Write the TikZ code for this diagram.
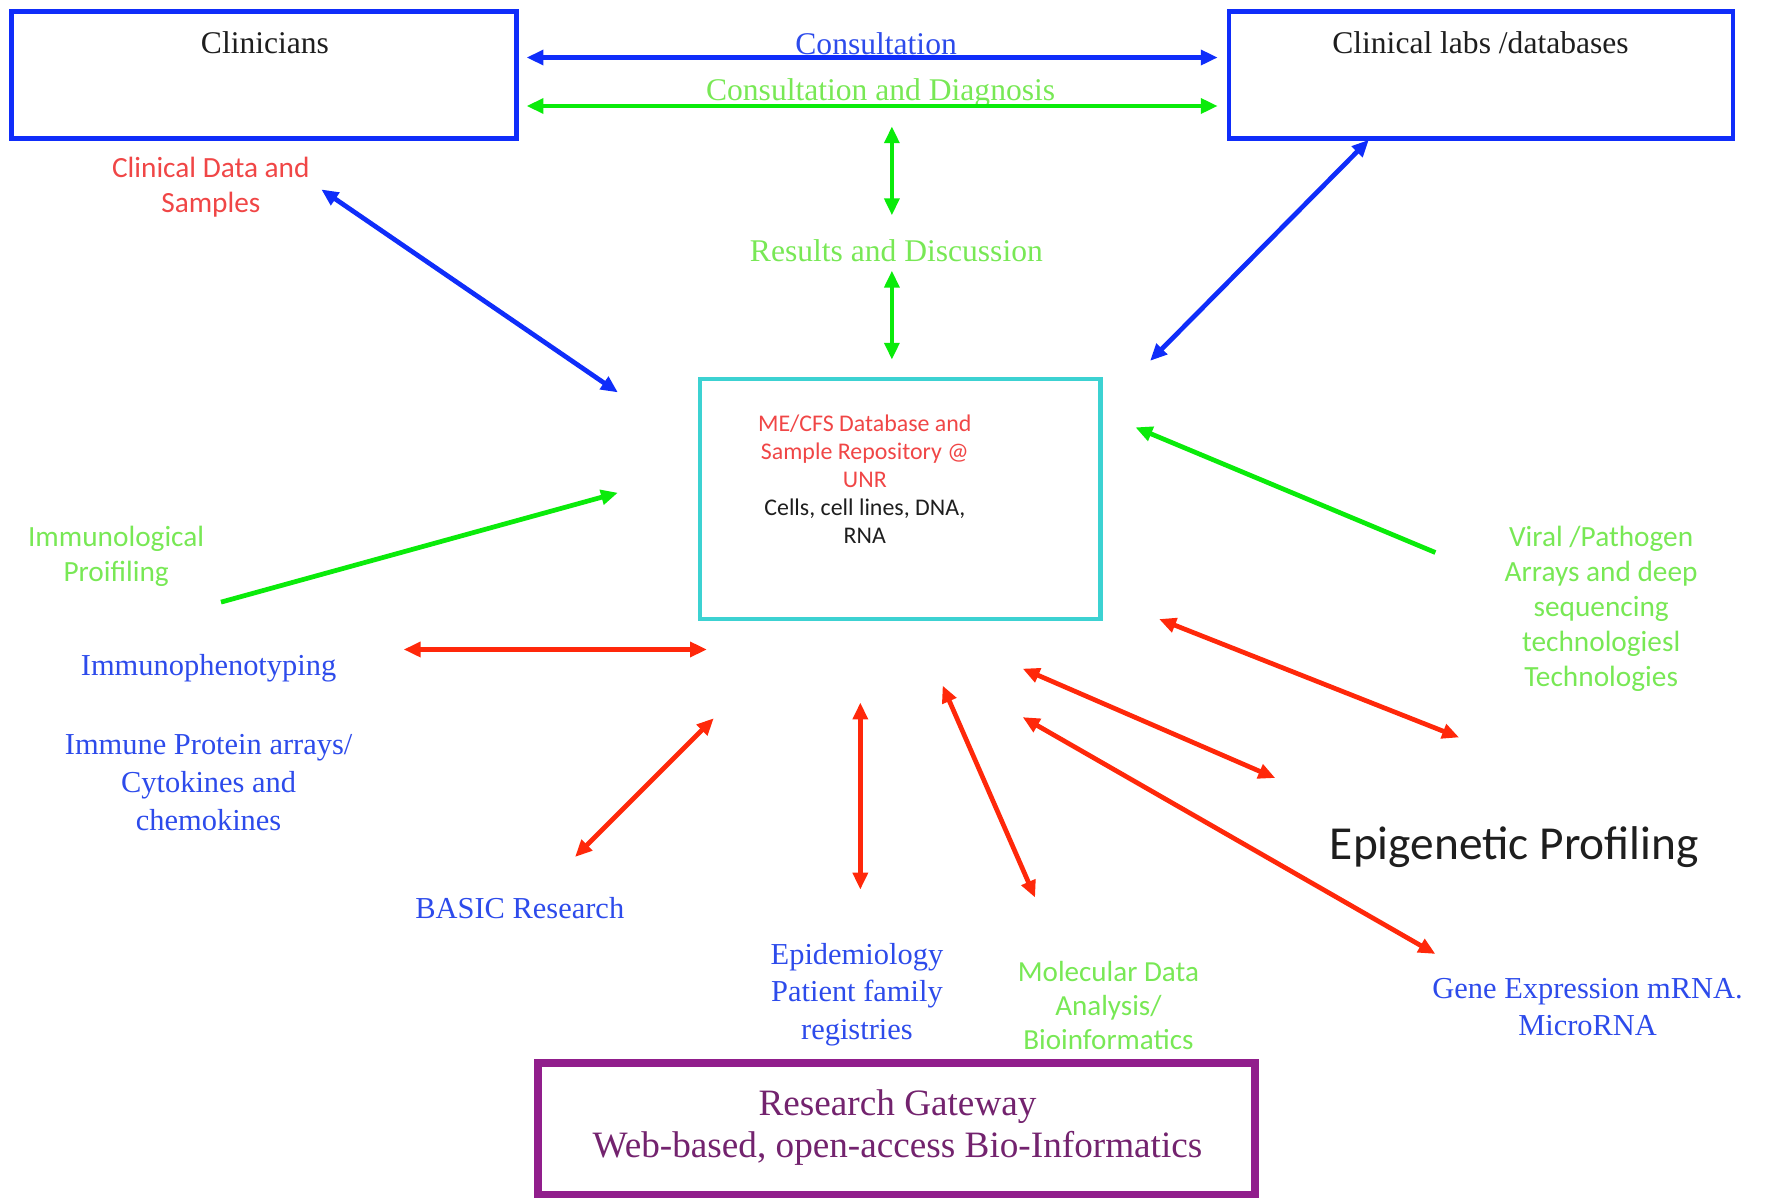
\documentclass[tikz,border=0pt]{standalone}
\usepackage{fontspec}
\setmainfont{Liberation Serif}
\newfontfamily\carl{Carlito}
\usetikzlibrary{arrows.meta}
\definecolor{boxblue}{RGB}{15,45,250}
\definecolor{textblue}{RGB}{45,75,235}
\definecolor{arrgreen}{RGB}{10,235,10}
\definecolor{textgreen}{RGB}{120,232,85}
\definecolor{arrred}{RGB}{255,40,10}
\definecolor{textred}{RGB}{240,70,70}
\definecolor{boxcyan}{RGB}{60,210,210}
\definecolor{boxpurple}{RGB}{145,30,140}
\definecolor{textpurple}{RGB}{115,35,110}
\definecolor{textdark}{RGB}{30,30,30}
\begin{document}
\begin{tikzpicture}[x=0.5pt,y=-0.5pt,
  serif/.style={font=\fontsize{14}{17}\selectfont, align=center, inner sep=0pt},
  sans/.style={font=\carl\fontsize{13}{15.5}\selectfont, align=center, inner sep=0pt},
  bluebox/.style={draw=boxblue, line width=2pt, inner sep=0pt},
  tip/.tip={Triangle[length=7.5pt,width=6.5pt]},
  dbl/.style={tip-tip, line width=2.1pt},
  sgl/.style={-tip, line width=2.1pt}]
\useasboundingbox (0,0) rectangle (1568,1062);
% boxes
\node[bluebox, minimum width=224pt, minimum height=56.5pt] (clin) at (234,66.5) {};
\node[serif, text=textdark] (clint) at (235,38) {Clinicians};
\node[bluebox, minimum width=223.5pt, minimum height=56.5pt] (labs) at (1313.5,66.5) {};
\node[serif, text=textdark] (labst) at (1313,38) {Clinical labs /databases};
\node[draw=boxcyan, line width=2pt, inner sep=0pt, minimum width=177.5pt, minimum height=106.5pt] (db) at (798.5,442.5) {};
\node[font=\carl\fontsize{10.6}{12.5}\selectfont, align=center, inner sep=0pt, text=textred] (dbt) at (767,425) {ME/CFS Database and\\Sample Repository @\\UNR\\\color{textdark}Cells, cell lines, DNA,\\\color{textdark}RNA};
\node[draw=boxpurple, line width=3.5pt, inner sep=0pt, minimum width=318pt, minimum height=58.5pt] (gw) at (795,1001.5) {};
\node[font=\fontsize{16.5}{19}\selectfont, align=center, inner sep=0pt, text=textpurple] (gwt) at (796,1000) {Research Gateway\\Web-based, open-access Bio-Informatics};
% labels
\node[serif, text=textblue] (cons) at (777,39) {Consultation};
\node[serif, text=textgreen] (consd) at (781,82) {Consultation and Diagnosis};
\node[serif, text=textgreen] (res) at (795,222) {Results and Discussion};
\node[sans, text=textred] (cds) at (187,166) {Clinical Data and\\Samples};
\node[sans, text=textgreen] (immp) at (103,493) {Immunological\\Proifiling};
\node[sans, text=textgreen] (vir) at (1420,540) {Viral /Pathogen\\Arrays and deep\\sequencing\\technologiesl\\Technologies};
\node[serif, text=textblue, font=\fontsize{13.5}{17}\selectfont] (imph) at (185,593) {Immunophenotyping};
\node[serif, text=textblue, font=\fontsize{13.5}{17}\selectfont] (ipa) at (185,694) {Immune Protein arrays/\\Cytokines and\\chemokines};
\node[serif, text=textblue, font=\fontsize{13.5}{17}\selectfont] (basic) at (461,805) {BASIC Research};
\node[serif, text=textblue, font=\fontsize{13.5}{16.5}\selectfont] (epi) at (760,882) {Epidemiology\\Patient family\\registries};
\node[sans, text=textgreen, font=\carl\fontsize{12.9}{15}\selectfont] (mol) at (983,892) {Molecular Data\\Analysis/\\Bioinformatics};
\node[inner sep=0pt, text=textdark, font=\carl\fontsize{21}{25}\selectfont] (epg) at (1343,751) {Epigenetic Profiling};
\node[serif, text=textblue, font=\fontsize{13.5}{16.5}\selectfont] (gene) at (1408,893) {Gene Expression mRNA.\\MicroRNA};
% connector end points
\coordinate (c1a) at (467,51);   \coordinate (c1b) at (1080,51);
\coordinate (c2a) at (467,94);   \coordinate (c2b) at (1080,94);
\coordinate (r1a) at (791,112);  \coordinate (r1b) at (791,191);
\coordinate (r2a) at (791,240);  \coordinate (r2b) at (791,319);
\coordinate (b1a) at (285,168);  \coordinate (b1b) at (548,348);
\coordinate (b2a) at (1214,124); \coordinate (b2b) at (1020,320);
\coordinate (g1a) at (196,534);  \coordinate (g1b) at (548,437);
\coordinate (g2a) at (1273,490); \coordinate (g2b) at (1007,379);
\coordinate (e1a) at (358,576);  \coordinate (e1b) at (627,576);
\coordinate (e2a) at (633,637);  \coordinate (e2b) at (510,760);
\coordinate (e3a) at (763,623);  \coordinate (e3b) at (763,789);
\coordinate (e4a) at (836,608);  \coordinate (e4b) at (918,796);
\coordinate (e5a) at (907,593);  \coordinate (e5b) at (1131,690);
\coordinate (e6a) at (1028,549); \coordinate (e6b) at (1294,654);
\coordinate (e7a) at (907,636);  \coordinate (e7b) at (1273,846);
% connectors
\draw[dbl, boxblue] (c1a) -- (c1b);
\draw[dbl, arrgreen] (c2a) -- (c2b);
\draw[dbl, arrgreen] (r1a) -- (r1b);
\draw[dbl, arrgreen] (r2a) -- (r2b);
\draw[dbl, boxblue] (b1a) -- (b1b);
\draw[dbl, boxblue] (b2a) -- (b2b);
\draw[sgl, arrgreen] (g1a) -- (g1b);
\draw[sgl, arrgreen] (g2a) -- (g2b);
\draw[dbl, arrred] (e1a) -- (e1b);
\draw[dbl, arrred] (e2a) -- (e2b);
\draw[dbl, arrred] (e3a) -- (e3b);
\draw[dbl, arrred] (e4a) -- (e4b);
\draw[dbl, arrred] (e5a) -- (e5b);
\draw[dbl, arrred] (e6a) -- (e6b);
\draw[dbl, arrred] (e7a) -- (e7b);
\end{tikzpicture}
\end{document}
